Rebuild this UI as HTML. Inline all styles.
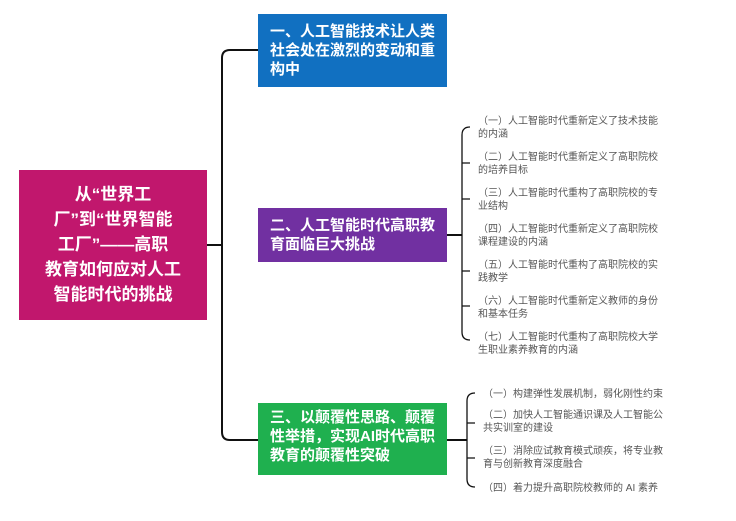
<!DOCTYPE html>
<html><head><meta charset="utf-8"><style>
body{margin:0;width:736px;height:521px;background:#fff;position:relative;overflow:hidden;font-family:"Liberation Sans","Noto Sans CJK SC",sans-serif}
.b{position:absolute;color:#fff;font-weight:bold;box-sizing:border-box}
.t{position:absolute;font-size:10px;line-height:13px;color:#555;white-space:nowrap}
</style></head><body>
<svg width="736" height="521" style="position:absolute;left:0;top:0" fill="none" stroke="#111" stroke-width="2">
<path d="M207 245 H222"/>
<path d="M258 50 H230 Q222 50 222 58 V432 Q222 440 230 440 H258"/>
<path d="M447 235 H462"/>
<path d="M470 127 Q462 127 462 135 V332 Q462 340 470 340" stroke-width="1.3"/>
<path d="M462 163 H470 M462 199 H470 M462 271 H470 M462 306 H470" stroke-width="1.3"/>
<path d="M447 440 H467"/>
<path d="M475 393 Q467 393 467 401 V479 Q467 487 475 487" stroke-width="1.3"/>
<path d="M467 423 H475 M467 458 H475" stroke-width="1.3"/>
</svg>
<div class="b" style="left:19px;top:170px;width:188px;height:150px;background:#c1176d;font-size:17px;line-height:25px;text-align:center;padding:12px 4px 0;white-space:nowrap">从“世界工<br>厂”到“世界智能<br>工厂”——高职<br>教育如何应对人工<br>智能时代的挑战</div>
<div class="b" style="left:258px;top:14px;width:189px;height:73px;background:#1170c1;font-size:15px;line-height:19px;padding:8px 10px 0 12px">一、人工智能技术让人类社会处在激烈的变动和重构中</div>
<div class="b" style="left:258px;top:208px;width:189px;height:54px;background:#7130a1;font-size:15px;line-height:19px;padding:8px 8px 0 12px">二、人工智能时代高职教育面临巨大挑战</div>
<div class="b" style="left:258px;top:403px;width:189px;height:72px;background:#1fb04f;font-size:15px;line-height:19px;padding:5px 8px 0 12px">三、以颠覆性思路、颠覆性举措，实现AI时代高职教育的颠覆性突破</div>
<div class="t" style="left:478px;top:115px">（一）人工智能时代重新定义了技术技能<br>的内涵</div>
<div class="t" style="left:478px;top:151px">（二）人工智能时代重新定义了高职院校<br>的培养目标</div>
<div class="t" style="left:478px;top:187px">（三）人工智能时代重构了高职院校的专<br>业结构</div>
<div class="t" style="left:478px;top:223px">（四）人工智能时代重新定义了高职院校<br>课程建设的内涵</div>
<div class="t" style="left:478px;top:259px">（五）人工智能时代重构了高职院校的实<br>践教学</div>
<div class="t" style="left:478px;top:295px">（六）人工智能时代重新定义教师的身份<br>和基本任务</div>
<div class="t" style="left:478px;top:331px">（七）人工智能时代重构了高职院校大学<br>生职业素养教育的内涵</div>
<div class="t" style="left:483px;top:388px">（一）构建弹性发展机制，弱化刚性约束</div>
<div class="t" style="left:483px;top:409px">（二）加快人工智能通识课及人工智能公<br>共实训室的建设</div>
<div class="t" style="left:483px;top:445px">（三）消除应试教育模式顽疾，将专业教<br>育与创新教育深度融合</div>
<div class="t" style="left:483px;top:482px">（四）着力提升高职院校教师的 AI 素养</div>
</body></html>
